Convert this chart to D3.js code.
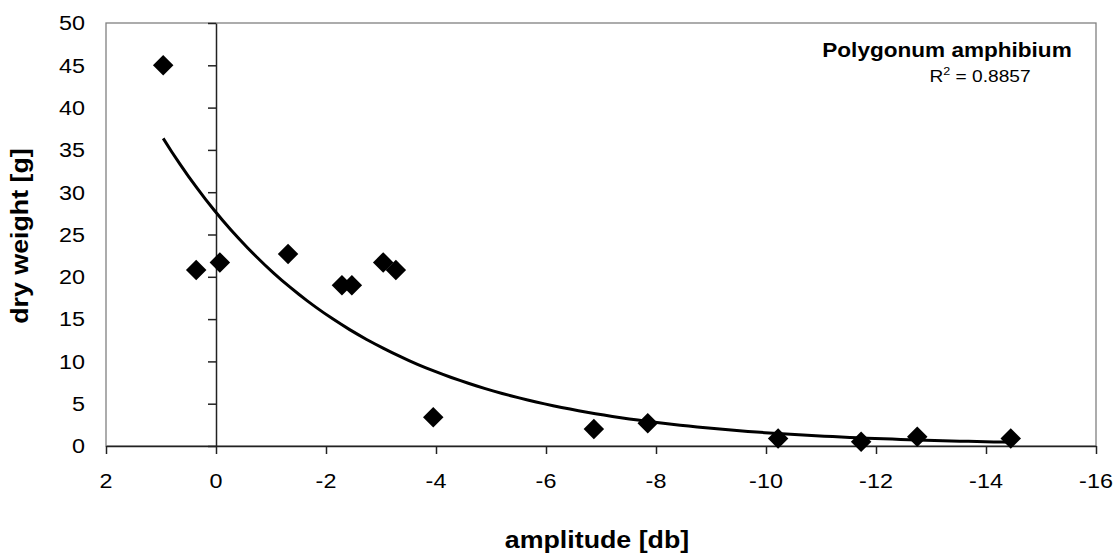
<!DOCTYPE html>
<html>
<head>
<meta charset="utf-8">
<script src="https://cdn.jsdelivr.net/npm/d3@7"></script>
<style>
  body { margin: 0; background: #fff; }
  text { font-family: "Liberation Sans", Arial, sans-serif; fill: #000; }
</style>
</head>
<body>
<div id="chart"></div>
<script>
// amplitude [db] vs dry weight [g], Polygonum amphibium
var amplitude = [0.96, 0.36, -0.07, -1.31, -2.29, -2.47, -3.04, -3.27, -3.95, -6.87, -7.85, -10.22, -11.73, -12.75, -14.45];
var dryWeight = [45.0, 20.8, 21.7, 22.7, 19.0, 19.0, 21.7, 20.8, 3.4, 2.0, 2.7, 0.9, 0.5, 1.1, 0.9];
var xTicks = [2, 0, -2, -4, -6, -8, -10, -12, -14, -16];
var yTicks = [0, 5, 10, 15, 20, 25, 30, 35, 40, 45, 50];
var speciesName = "Polygonum amphibium";
var rSquared = "0.8857";

var W = 1117, H = 554;
var margin = { top: 23, left: 106, right: 21, bottom: 108 };
var stretch = 1.14; // text in the picture is a bit wider than the font

var svg = d3.select("#chart").append("svg").attr("width", W).attr("height", H);

var x = d3.scaleLinear().domain([2, -16]).range([margin.left, W - margin.right]);
var y = d3.scaleLinear().domain([0, 50]).range([H - margin.bottom, margin.top]);

var data = amplitude.map((a, i) => ({ x: a, y: dryWeight[i] }));

// plot area frame
svg.append("rect")
  .attr("x", x(2)).attr("y", y(50))
  .attr("width", x(-16) - x(2)).attr("height", y(0) - y(50))
  .attr("fill", "none").attr("stroke", "#808080").attr("stroke-width", 1.3);

// y axis crosses at x = 0, ticks only
svg.append("g")
  .attr("transform", `translate(${x(0)},0)`)
  .call(d3.axisLeft(y).tickValues(yTicks).tickSize(8).tickSizeOuter(0).tickFormat(""))
  .call(g => g.selectAll("line, path").attr("stroke", "#222").attr("stroke-width", 1.5));

// x axis
svg.append("g")
  .attr("transform", `translate(0,${y(0)})`)
  .call(d3.axisBottom(x).tickValues(xTicks).tickSize(8).tickSizeOuter(0).tickFormat(""))
  .call(g => g.selectAll("line, path").attr("stroke", "#222").attr("stroke-width", 1.5));

// y tick labels at the left of the plot
svg.append("g").selectAll("text")
  .data(yTicks)
  .join("text")
  .attr("transform", d => `translate(85,${y(d)}) scale(${stretch},1)`)
  .attr("text-anchor", "end")
  .attr("dy", "0.36em")
  .style("font-size", "20.5px")
  .text(d => d);

// x tick labels
svg.append("g").selectAll("text")
  .data(xTicks)
  .join("text")
  .attr("transform", d => `translate(${x(d)},488) scale(${stretch},1)`)
  .attr("text-anchor", "middle")
  .style("font-size", "20.5px")
  .text(d => d);

// exponential trendline (least squares on ln y, like Excel)
var mx = d3.mean(data, d => d.x);
var ml = d3.mean(data, d => Math.log(d.y));
var b = d3.sum(data, d => (d.x - mx) * (Math.log(d.y) - ml)) / d3.sum(data, d => (d.x - mx) * (d.x - mx));
var a = Math.exp(ml - b * mx);
var xs = d3.extent(amplitude);
var trend = d3.range(0, 101).map(i => {
  var xv = xs[1] + (xs[0] - xs[1]) * i / 100;
  return { x: xv, y: a * Math.exp(b * xv) };
});

svg.append("path")
  .datum(trend)
  .attr("fill", "none")
  .attr("stroke", "#000")
  .attr("stroke-width", 3)
  .attr("d", d3.line().x(d => x(d.x)).y(d => y(d.y)));

// markers
svg.append("g").selectAll("path")
  .data(data)
  .join("path")
  .attr("transform", d => `translate(${x(d.x)},${y(d.y)}) rotate(45)`)
  .attr("d", d3.symbol(d3.symbolSquare, 210))
  .attr("fill", "#000");

// labels
svg.append("text")
  .attr("transform", `translate(947,57) scale(${stretch},1)`)
  .attr("text-anchor", "middle")
  .style("font-size", "19.8px").style("font-weight", "bold")
  .text(speciesName);

var r2 = svg.append("text")
  .attr("transform", `translate(980,82) scale(${stretch},1)`)
  .attr("text-anchor", "middle")
  .style("font-size", "16.8px");
r2.append("tspan").text("R");
r2.append("tspan").attr("dy", -7).style("font-size", "11px").text("2");
r2.append("tspan").attr("dy", 7).text(" = " + rSquared);

svg.append("text")
  .attr("transform", `translate(597,548) scale(${stretch},1)`)
  .attr("text-anchor", "middle")
  .style("font-size", "23.5px").style("font-weight", "bold")
  .text("amplitude [db]");

svg.append("text")
  .attr("transform", `translate(28,236) rotate(-90) scale(${stretch},1)`)
  .attr("text-anchor", "middle")
  .style("font-size", "23.5px").style("font-weight", "bold")
  .text("dry weight [g]");
</script>
</body>
</html>
